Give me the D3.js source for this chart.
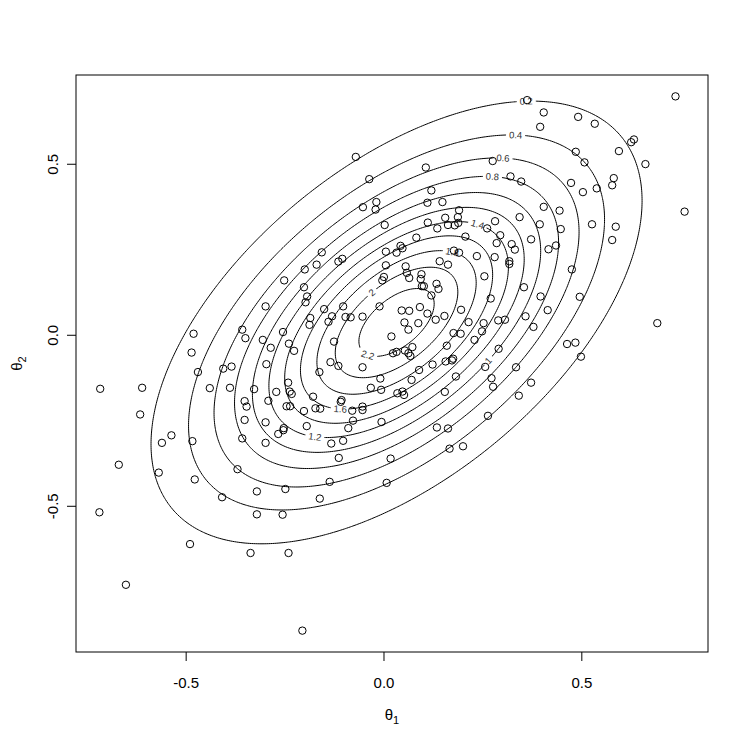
<!DOCTYPE html>
<html>
<head>
<meta charset="utf-8">
<script src="https://cdn.jsdelivr.net/npm/d3@7"></script>
<style>
  body { margin: 0; background: #fff; }
  svg { display: block; }
  text { font-family: "Liberation Sans", Arial, Helvetica, sans-serif; }
</style>
</head>
<body>
<svg></svg>
<script>
const width = 747, height = 747;
const margin = { top: 75, right: 39, bottom: 95, left: 76 };

const theta1 = [
  -0.070, -0.036, -0.052, -0.018, -0.020, 0.003, -0.156, -0.169, -0.199, -0.114,
  -0.104, 0.006, 0.006, 0.033, 0.363, 0.405, 0.396, 0.276, 0.107, 0.321,
  0.348, 0.121, 0.111, 0.149, 0.405, 0.191, 0.156, 0.188, 0.344, 0.282,
  0.112, 0.163, 0.180, 0.189, 0.136, 0.262, 0.395, 0.295, 0.207, 0.083,
  0.373, 0.286, 0.324, 0.043, 0.048, 0.417, 0.178, 0.191, 0.332, 0.236,
  0.281, 0.142, 0.163, 0.318, 0.318, 0.056, 0.436, 0.738, 0.492, 0.534,
  0.626, 0.633, 0.595, 0.486, 0.508, 0.662, 0.582, 0.578, 0.474, 0.504,
  0.539, 0.445, 0.761, 0.527, 0.587, 0.448, 0.578, 0.476, -0.480, -0.485,
  -0.469, -0.405, -0.384, -0.716, -0.610, -0.439, -0.388, -0.615, -0.536, -0.560,
  -0.483, -0.669, -0.251, 0.001, -0.003, -0.201, -0.193, -0.197, -0.298, -0.010,
  -0.102, -0.150, -0.130, -0.096, -0.083, -0.053, -0.185, -0.187, -0.139, -0.357,
  -0.349, -0.254, -0.305, 0.020, -0.125, -0.239, -0.285, -0.226, 0.024, -0.296,
  -0.134, -0.114, -0.053, -0.162, -0.008, -0.241, -0.032, -0.006, -0.327, -0.237,
  -0.232, -0.271, -0.178, -0.106, -0.108, -0.351, -0.346, -0.291, -0.245, -0.236,
  -0.172, -0.160, -0.053, -0.053, -0.079, -0.201, -0.351, -0.298, -0.077, -0.005,
  -0.194, -0.089, -0.252, -0.253, -0.266, -0.357, -0.298, -0.102, -0.132, -0.113,
  0.018, 0.059, 0.065, 0.096, 0.094, 0.097, 0.102, 0.134, 0.139, 0.121,
  0.255, 0.355, 0.397, 0.271, 0.415, 0.046, 0.065, 0.092, 0.111, 0.154,
  0.196, 0.132, 0.053, 0.088, 0.063, 0.359, 0.215, 0.253, 0.290, 0.307,
  0.379, 0.177, 0.195, 0.249, 0.230, 0.160, 0.291, 0.073, 0.033, 0.054,
  0.063, 0.068, 0.124, 0.157, 0.173, 0.176, 0.090, 0.257, 0.335, 0.183,
  0.273, 0.277, 0.071, 0.373, 0.035, 0.048, 0.052, 0.155, 0.342, 0.264,
  0.135, 0.163, 0.167, 0.201, 0.496, 0.692, 0.464, 0.485, 0.499, -0.568,
  -0.477, -0.408, -0.369, -0.718, -0.489, -0.651, -0.320, -0.248, -0.136, -0.161,
  0.008, -0.320, -0.255, -0.336, -0.240, -0.205
];
const theta2 = [
  0.520, 0.455, 0.373, 0.388, 0.366, 0.321, 0.241, 0.205, 0.191, 0.214,
  0.222, 0.243, 0.203, 0.240, 0.686, 0.650, 0.608, 0.508, 0.489, 0.463,
  0.448, 0.422, 0.386, 0.388, 0.374, 0.364, 0.342, 0.344, 0.344, 0.332,
  0.328, 0.321, 0.320, 0.327, 0.311, 0.311, 0.323, 0.291, 0.287, 0.284,
  0.279, 0.268, 0.265, 0.260, 0.253, 0.250, 0.246, 0.240, 0.249, 0.230,
  0.227, 0.215, 0.205, 0.215, 0.207, 0.200, 0.261, 0.697, 0.637, 0.617,
  0.563, 0.571, 0.537, 0.535, 0.504, 0.499, 0.458, 0.437, 0.444, 0.417,
  0.428, 0.363, 0.360, 0.323, 0.316, 0.309, 0.277, 0.191, 0.003, -0.052,
  -0.109, -0.099, -0.093, -0.158, -0.155, -0.156, -0.155, -0.233, -0.294, -0.316,
  -0.311, -0.380, 0.159, 0.169, 0.159, 0.139, 0.112, 0.095, 0.083, 0.083,
  0.083, 0.075, 0.054, 0.052, 0.051, 0.053, 0.049, 0.029, 0.038, 0.015,
  -0.010, 0.008, -0.015, -0.005, -0.020, -0.026, -0.038, -0.047, -0.054, -0.086,
  -0.080, -0.091, -0.095, -0.109, -0.128, -0.140, -0.155, -0.161, -0.159, -0.166,
  -0.173, -0.167, -0.181, -0.191, -0.196, -0.194, -0.210, -0.193, -0.209, -0.209,
  -0.215, -0.216, -0.210, -0.220, -0.222, -0.223, -0.249, -0.256, -0.251, -0.255,
  -0.267, -0.273, -0.273, -0.279, -0.290, -0.303, -0.316, -0.310, -0.318, -0.360,
  -0.362, 0.181, 0.166, 0.177, 0.163, 0.142, 0.142, 0.149, 0.134, 0.115,
  0.171, 0.139, 0.112, 0.106, 0.072, 0.071, 0.070, 0.081, 0.062, 0.055,
  0.073, 0.044, 0.036, 0.034, 0.015, 0.054, 0.037, 0.034, 0.042, 0.044,
  0.023, 0.005, 0.003, 0.010, -0.015, -0.032, -0.041, -0.036, -0.050, -0.046,
  -0.054, -0.062, -0.087, -0.078, -0.075, -0.070, -0.103, -0.094, -0.095, -0.122,
  -0.127, -0.152, -0.132, -0.140, -0.171, -0.166, -0.176, -0.167, -0.178, -0.237,
  -0.271, -0.274, -0.333, -0.326, 0.111, 0.034, -0.027, -0.023, -0.064, -0.403,
  -0.423, -0.475, -0.393, -0.519, -0.612, -0.731, -0.458, -0.451, -0.430, -0.479,
  -0.433, -0.525, -0.526, -0.638, -0.638, -0.865
];

// bivariate normal whose density is contoured
const mu = [0.033, 0.036];
const sd = [0.28, 0.292];
const rho = 0.55;
const levels = [0.2, 0.4, 0.6, 0.8, 1.0, 1.2, 1.4, 1.6, 1.8, 2.0, 2.2];
const levelText = ["0.2", "0.4", "0.6", "0.8", "1", "1.2", "1.4", "1.6", "1.8", "2", "2.2"];
// roughly where each contour label sits (theta1, theta2)
const labelAt = [
  [0.362, 0.688], [0.335, 0.592], [0.302, 0.526], [0.276, 0.472], [0.257, -0.065],
  [-0.178, -0.316], [0.243, 0.340], [-0.112, -0.235], [0.174, 0.256], [-0.030, 0.124],
  [-0.045, -0.085]
];
const xTicks = [-0.5, 0, 0.5];
const yTicks = [-0.5, 0, 0.5];

const svg = d3.select("svg").attr("width", width).attr("height", height);

// R style 4% padding around the data range
function padded(v) {
  const [lo, hi] = d3.extent(v);
  const r = hi - lo;
  return [lo - 0.04 * r, hi + 0.04 * r];
}
const x = d3.scaleLinear().domain(padded(theta1)).range([margin.left, width - margin.right]);
const y = d3.scaleLinear().domain(padded(theta2)).range([height - margin.bottom, margin.top]);

// density grid
const nx = 300, ny = 300;
const [x0, x1] = x.domain(), [y0, y1] = y.domain();
const sx = (x1 - x0) / (nx - 1), sy = (y1 - y0) / (ny - 1);
const norm = 1 / (2 * Math.PI * sd[0] * sd[1] * Math.sqrt(1 - rho * rho));
const grid = new Array(nx * ny);
for (let j = 0; j < ny; j++) {
  for (let i = 0; i < nx; i++) {
    const a = (x0 + i * sx - mu[0]) / sd[0];
    const b = (y0 + j * sy - mu[1]) / sd[1];
    const q = (a * a - 2 * rho * a * b + b * b) / (1 - rho * rho);
    grid[i + j * nx] = norm * Math.exp(-q / 2);
  }
}
const contours = d3.contours().size([nx, ny]).thresholds(levels)(grid);

const toPx = (gx, gy) => [x(x0 + (gx - 0.5) * sx), y(y0 + (gy - 0.5) * sy)];
const path = d3.geoPath(d3.geoTransform({
  point(px, py) { const p = toPx(px, py); this.stream.point(p[0], p[1]); }
}));

const defs = svg.append("defs");
defs.append("clipPath").attr("id", "plotclip")
  .append("rect")
  .attr("x", margin.left).attr("y", margin.top)
  .attr("width", width - margin.left - margin.right)
  .attr("height", height - margin.top - margin.bottom);
const mask = defs.append("mask").attr("id", "labelgaps").attr("maskUnits", "userSpaceOnUse")
  .attr("x", 0).attr("y", 0).attr("width", width).attr("height", height);
mask.append("rect").attr("width", width).attr("height", height).attr("fill", "#fff");

const plot = svg.append("g").attr("clip-path", "url(#plotclip)");

plot.append("g")
  .attr("mask", "url(#labelgaps)")
  .selectAll("path")
  .data(contours)
  .enter().append("path")
  .attr("d", path)
  .attr("fill", "none")
  .attr("stroke", "#000")
  .attr("stroke-width", 1);

// contour labels: snap to the nearest vertex of each level, follow the line
const labels = plot.append("g");
contours.forEach((c, k) => {
  let ring = [];
  c.coordinates.forEach(poly => { if (poly[0].length > ring.length) ring = poly[0]; });
  if (!ring.length) return;
  const pts = ring.map(p => toPx(p[0], p[1]));
  const tx = x(labelAt[k][0]), ty = y(labelAt[k][1]);
  const idx = d3.minIndex(pts, p => (p[0] - tx) ** 2 + (p[1] - ty) ** 2);
  const n = pts.length;
  const pa = pts[(idx - 4 + n) % n], pb = pts[(idx + 4) % n];
  let ang = Math.atan2(pb[1] - pa[1], pb[0] - pa[0]) * 180 / Math.PI;
  if (ang > 90) ang -= 180;
  if (ang < -90) ang += 180;
  const [px, py] = pts[idx];
  const t = labels.append("text")
    .attr("transform", `translate(${px},${py}) rotate(${ang})`)
    .attr("text-anchor", "middle")
    .attr("dy", "0.35em")
    .attr("font-size", 9.5)
    .attr("fill", "#333")
    .text(levelText[k]);
  const w = t.node().getComputedTextLength();
  mask.append("rect")
    .attr("transform", `translate(${px},${py}) rotate(${ang})`)
    .attr("x", -w / 2 - 3).attr("y", -5)
    .attr("width", w + 6).attr("height", 10)
    .attr("fill", "#000");
});

// points
plot.append("g")
  .selectAll("circle")
  .data(d3.range(theta1.length))
  .enter().append("circle")
  .attr("cx", i => x(theta1[i]))
  .attr("cy", i => y(theta2[i]))
  .attr("r", 3.7)
  .attr("fill", "none")
  .attr("stroke", "#000")
  .attr("stroke-width", 1);

// box
svg.append("rect")
  .attr("x", margin.left).attr("y", margin.top)
  .attr("width", width - margin.left - margin.right)
  .attr("height", height - margin.top - margin.bottom)
  .attr("fill", "none").attr("stroke", "#000").attr("stroke-width", 1);

const fmt = d => d3.format(".1f")(d).replace("\u2212", "-");

const xAxis = svg.append("g")
  .attr("transform", `translate(0,${height - margin.bottom})`)
  .call(d3.axisBottom(x).tickValues(xTicks).tickSize(9).tickSizeOuter(0).tickFormat(fmt));
xAxis.select(".domain").remove();
xAxis.selectAll("text").attr("y", 36).attr("dy", 0).attr("font-size", 15).attr("fill", "#000")
  .style("font-family", '"Liberation Sans", Arial, Helvetica, sans-serif');

const yAxis = svg.append("g")
  .attr("transform", `translate(${margin.left},0)`)
  .call(d3.axisLeft(y).tickValues(yTicks).tickSize(9).tickSizeOuter(0).tickFormat(fmt));
yAxis.select(".domain").remove();
yAxis.selectAll("text")
  .attr("x", null).attr("dy", null)
  .attr("transform", "translate(-18,0) rotate(-90)")
  .attr("text-anchor", "middle")
  .attr("font-size", 15).attr("fill", "#000")
  .style("font-family", '"Liberation Sans", Arial, Helvetica, sans-serif');

// axis titles with subscripts
const xt = svg.append("text")
  .attr("x", (margin.left + width - margin.right) / 2)
  .attr("y", 720)
  .attr("text-anchor", "middle")
  .attr("font-size", 15);
xt.append("tspan").text("\u03b8");
xt.append("tspan").attr("font-size", 11).attr("dy", 4).text("1");

const yt = svg.append("text")
  .attr("transform", `translate(22,${(margin.top + height - margin.bottom) / 2}) rotate(-90)`)
  .attr("text-anchor", "middle")
  .attr("font-size", 15);
yt.append("tspan").text("\u03b8");
yt.append("tspan").attr("font-size", 11).attr("dy", 4).text("2");
</script>
</body>
</html>
